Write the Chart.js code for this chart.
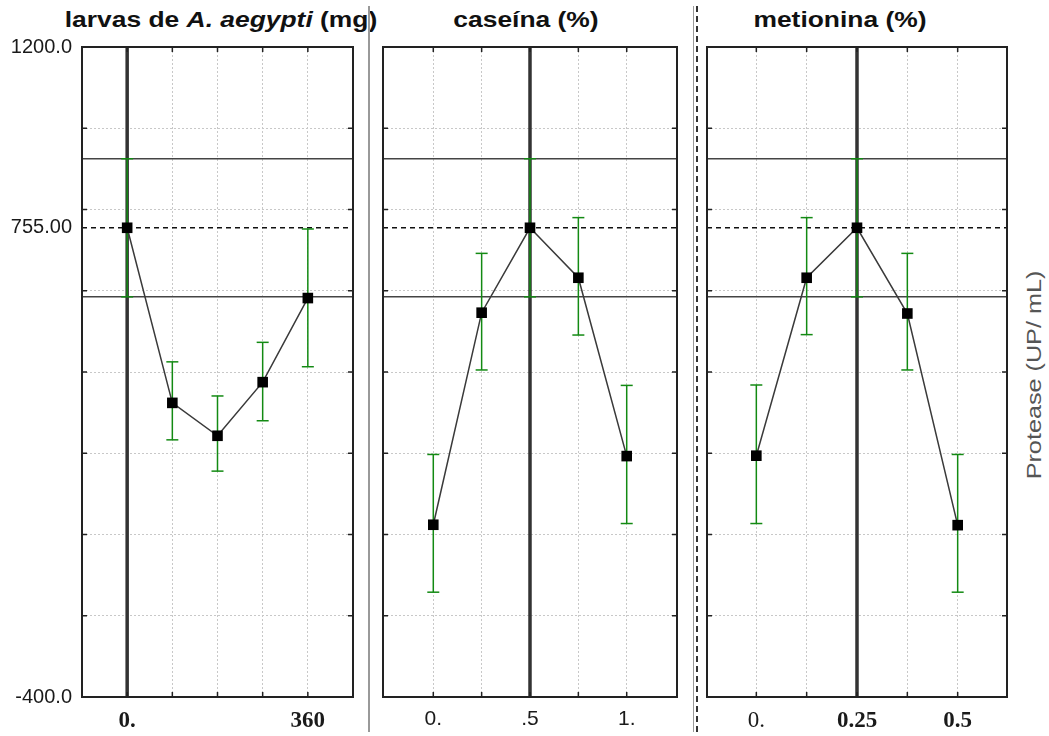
<!DOCTYPE html>
<html>
<head>
<meta charset="utf-8">
<script src="https://cdn.jsdelivr.net/npm/chart.js@4.4.1/dist/chart.umd.min.js"></script>
<style>
body { margin: 0; background: #fff; width: 1049px; height: 736px; overflow: hidden; position: relative; font-family: Arial, "Liberation Sans", sans-serif; }
canvas { position: absolute; top: 0; }
.title { position: absolute; top: 7px; font-weight: bold; font-size: 22px; color: #111; white-space: nowrap; transform: translateX(-50%) scaleX(1.2); }
.sep { position: absolute; top: 6px; height: 726px; }
.ytitle { position: absolute; left: 1034px; top: 375px; font-size: 21px; color: #555; white-space: nowrap; transform: translate(-50%, -50%) rotate(-90deg) scaleX(1.2); }
</style>
</head>
<body>
<div class="title" style="left:221px">larvas de <i>A. aegypti</i> (mg)</div>
<div class="title" style="left:526px">caseína (%)</div>
<div class="title" style="left:840px">metionina (%)</div>
<div class="sep" style="left:368px;width:2px;background:#999"></div>
<div class="sep" style="left:693px;width:1px;background:#999"></div>
<div class="sep" style="left:696px;width:0;border-left:2px dashed #333"></div>
<div class="ytitle">Protease (UP/ mL)</div>

<canvas id="c1" width="369" height="736" style="left:0"></canvas>
<canvas id="c2" width="323" height="736" style="left:371px"></canvas>
<canvas id="c3" width="351" height="736" style="left:698px"></canvas>

<script>
// larvas de A. aegypti (mg)
const larvasX = [0, 90, 180, 270, 360];
const larvasY = [755, 324, 243, 375, 582];
const larvasLow = [585, 233, 156, 280, 413];
const larvasHigh = [925, 425, 341, 473, 752];
const larvasTicks = ['0.', '', '', '', '360'];

// caseína (%)
const caseinaX = [0, 0.25, 0.5, 0.75, 1];
const caseinaY = [24, 546, 755, 632, 193];
const caseinaLow = [-142, 405, 585, 491, 27];
const caseinaHigh = [197, 692, 925, 780, 367];
const caseinaTicks = ['0.', '', '.5', '', '1.'];

// metionina (%)
const metioninaX = [0, 0.125, 0.25, 0.375, 0.5];
const metioninaY = [194, 632, 755, 544, 23];
const metioninaLow = [27, 492, 585, 405, -142];
const metioninaHigh = [368, 780, 925, 692, 197];
const metioninaTicks = ['0.', '', '0.25', '', '0.5'];

// y axis
const yTickValues = [1200, 755, -400];
const yTickTexts = ['1200.0', '755.00', '-400.0'];
const meanLine = 755;
const limitLines = [925, 585];

function seg(ctx, x1, y1, x2, y2) {
    ctx.beginPath();
    ctx.moveTo(x1, y1);
    ctx.lineTo(x2, y2);
    ctx.stroke();
}

const panelDecor = {
    id: 'panelDecor',
    beforeDatasetsDraw(chart, args, opts) {
        const ctx = chart.ctx;
        const a = chart.chartArea;
        const xs = chart.scales.x, ys = chart.scales.y;
        ctx.save();
        // limits
        ctx.strokeStyle = '#444';
        ctx.lineWidth = 1.5;
        limitLines.forEach(function(v) {
            const py = ys.getPixelForValue(v);
            seg(ctx, a.left, py, a.right, py);
        });
        // mean
        ctx.strokeStyle = '#111';
        ctx.setLineDash([5, 4]);
        const my = ys.getPixelForValue(meanLine);
        seg(ctx, a.left, my, a.right, my);
        ctx.setLineDash([]);
        // centre line
        ctx.strokeStyle = '#333';
        ctx.lineWidth = 3.5;
        const cx = xs.getPixelForValue(opts.center);
        seg(ctx, cx, a.top, cx, a.bottom);
        // error bars
        const ds = chart.data.datasets[0];
        const meta = chart.getDatasetMeta(0);
        ctx.strokeStyle = '#138a13';
        ctx.lineWidth = 1.5;
        meta.data.forEach(function(pt, i) {
            const yl = ys.getPixelForValue(ds.errLow[i]);
            const yh = ys.getPixelForValue(ds.errHigh[i]);
            const px = xs.getPixelForValue(ds.data[i].x);
            seg(ctx, px, yl, px, yh);
            seg(ctx, px - 6, yl, px + 6, yl);
            seg(ctx, px - 6, yh, px + 6, yh);
        });
        ctx.restore();
    },
    afterDraw(chart) {
        const ctx = chart.ctx;
        const a = chart.chartArea;
        const xs = chart.scales.x, ys = chart.scales.y;
        ctx.save();
        ctx.strokeStyle = '#222';
        ctx.lineWidth = 1.5;
        xs.ticks.forEach(function(t) {
            const px = xs.getPixelForValue(t.value);
            seg(ctx, px, a.top, px, a.top + 5);
            seg(ctx, px, a.bottom, px, a.bottom - 5);
        });
        ys.ticks.forEach(function(t) {
            if (t.value === meanLine) return;
            const py = ys.getPixelForValue(t.value);
            seg(ctx, a.left, py, a.left + 5, py);
            seg(ctx, a.right, py, a.right - 5, py);
        });
        ctx.lineWidth = 2;
        ctx.strokeRect(a.left, a.top, a.right - a.left, a.bottom - a.top);
        ctx.restore();
    }
};

function makePanel(id, xVals, yVals, low, high, tickTexts, xRange, center, pad, showY, tickFont) {
    const points = xVals.map(function(x, i) { return {x: x, y: yVals[i]}; });
    new Chart(document.getElementById(id), {
        type: 'line',
        data: {
            datasets: [{
                data: points,
                errLow: low,
                errHigh: high,
                borderColor: '#3a3a3a',
                borderWidth: 1.5,
                pointStyle: 'rect',
                pointRadius: 7.5,
                pointBackgroundColor: '#000',
                pointBorderColor: '#000',
                pointBorderWidth: 0,
                tension: 0
            }]
        },
        options: {
            responsive: false,
            animation: false,
            events: [],
            layout: { padding: {left: 0, bottom: 0, top: pad.top, right: pad.right} },
            plugins: {
                legend: { display: false },
                tooltip: { enabled: false },
                panelDecor: { center: center }
            },
            scales: {
                x: {
                    type: 'linear',
                    min: xRange[0],
                    max: xRange[1],
                    afterBuildTicks: function(scale) {
                        scale.ticks = xVals.map(function(v) { return {value: v}; });
                    },
                    afterFit: function(scale) { scale.height = pad.bottom; },
                    grid: { color: '#c8c8c8', lineWidth: 1, drawTicks: false },
                    border: { display: false, dash: [2, 2] },
                    ticks: {
                        padding: 10,
                        color: '#1a1a1a',
                        maxRotation: 0,
                        autoSkip: false,
                        font: tickFont,
                        callback: function(v, i) { return tickTexts[i]; }
                    }
                },
                y: {
                    type: 'linear',
                    min: -400,
                    max: 1200,
                    afterBuildTicks: function(scale) {
                        const t = [];
                        for (let v = -400; v <= 1200; v += 200) t.push({value: v});
                        if (showY) t.push({value: meanLine});
                        scale.ticks = t;
                    },
                    afterFit: function(scale) { scale.width = pad.left; },
                    grid: {
                        color: function(c) { return c.tick && c.tick.value === meanLine ? 'rgba(0,0,0,0)' : '#c8c8c8'; },
                        lineWidth: 1,
                        drawTicks: false
                    },
                    border: { display: false, dash: [2, 2] },
                    ticks: {
                        display: showY,
                        autoSkip: false,
                        padding: 10,
                        color: '#1a1a1a',
                        font: { family: 'Arial, "Liberation Sans", sans-serif', size: 20 },
                        callback: function(v) {
                            const k = yTickValues.indexOf(v);
                            return k >= 0 ? yTickTexts[k] : '';
                        }
                    }
                }
            }
        },
        plugins: [panelDecor]
    });
}

const serifBold = { family: '"Liberation Serif", "Times New Roman", serif', size: 23, weight: 'bold' };
const serifPlain = { family: '"Liberation Serif", "Times New Roman", serif', size: 23 };
const sansPlain = { family: 'Arial, "Liberation Sans", sans-serif', size: 21 };

makePanel('c1', larvasX, larvasY, larvasLow, larvasHigh, larvasTicks,
    [-90, 450], 0, {left: 82, right: 16, top: 47, bottom: 39}, true, serifBold);
makePanel('c2', caseinaX, caseinaY, caseinaLow, caseinaHigh, caseinaTicks,
    [-0.26, 1.26], 0.5, {left: 12, right: 17, top: 47, bottom: 39}, false, sansPlain);
makePanel('c3', metioninaX, metioninaY, metioninaLow, metioninaHigh, metioninaTicks,
    [-0.1225, 0.6225], 0.25, {left: 9, right: 42, top: 47, bottom: 39}, false,
    function(c) { return c.index === 0 ? serifPlain : serifBold; });
</script>
</body>
</html>
